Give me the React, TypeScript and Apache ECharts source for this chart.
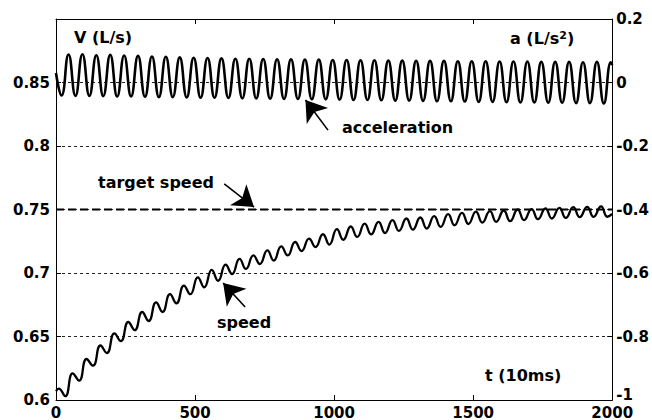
import { useEffect, useRef } from "react";
import * as echarts from "echarts";

const FONT = "'DejaVu Sans', 'Liberation Sans', sans-serif";

// Axis ticks (tick labels)
const xTicks = [0, 500, 1000, 1500, 2000];
const speedAxisTicks = [0.6, 0.65, 0.7, 0.75, 0.8, 0.85]; // 0.9 (top) left unlabeled
const accelAxisTicks = [-1, -0.8, -0.6, -0.4, -0.2, 0, 0.2];

// Speed V (L/s): ripple extremes
const speedT = [
  0, 10, 33, 60, 83, 110, 133, 160, 183, 210, 233, 260, 283, 310, 333, 360, 383, 410, 433, 460,
  483, 510, 533, 560, 583, 610, 633, 660, 683, 710, 733, 760, 783, 810, 833, 860, 883, 910, 933, 960,
  983, 1010, 1033, 1060, 1083, 1110, 1133, 1160, 1183, 1210, 1233, 1260, 1283, 1310, 1333, 1360, 1383, 1410, 1433, 1460,
  1483, 1510, 1533, 1560, 1583, 1610, 1633, 1660, 1683, 1710, 1733, 1760, 1783, 1810, 1833, 1860, 1883, 1910, 1933, 1960,
  1983, 2000,
];
const speedV = [
  0.607, 0.609, 0.603, 0.621, 0.6153, 0.6323, 0.627, 0.6429, 0.637, 0.6524, 0.6463, 0.6614, 0.655, 0.6693, 0.6622, 0.6768, 0.6693, 0.6833, 0.6762, 0.69,
  0.6833, 0.6966, 0.6887, 0.7024, 0.6939, 0.7066, 0.6992, 0.7111, 0.7032, 0.7138, 0.7071, 0.7178, 0.7098, 0.7209, 0.7138, 0.7244, 0.7173, 0.727, 0.7204, 0.7305,
  0.7224, 0.7345, 0.7262, 0.7366, 0.7284, 0.7389, 0.7304, 0.7403, 0.7315, 0.7416, 0.7331, 0.7429, 0.7342, 0.7437, 0.735, 0.7448, 0.7363, 0.7463, 0.7376, 0.7474,
  0.7386, 0.7484, 0.7397, 0.7487, 0.7403, 0.7492, 0.7408, 0.75, 0.7416, 0.7503, 0.7424, 0.7508, 0.7429, 0.7513, 0.7434, 0.7518, 0.744, 0.7521, 0.7442, 0.7524,
  0.7443, 0.7465,
];

// Acceleration a (L/s^2): oscillation extremes (right axis)
const accT = [
  0, 20, 45, 70, 95, 120, 145, 170, 195, 220, 245, 270, 295, 320, 345, 370, 395, 420, 445, 470,
  495, 520, 545, 570, 595, 620, 645, 670, 695, 720, 745, 770, 795, 820, 845, 870, 895, 920, 945, 970,
  995, 1020, 1045, 1070, 1095, 1120, 1145, 1170, 1195, 1220, 1245, 1270, 1295, 1320, 1345, 1370, 1395, 1420, 1445, 1470,
  1495, 1520, 1545, 1570, 1595, 1620, 1645, 1670, 1695, 1720, 1745, 1770, 1795, 1820, 1845, 1870, 1895, 1920, 1945, 1970,
  1995, 2000,
];
const accV = [
  0.03,
  -0.041, 0.088, -0.042, 0.089, -0.042, 0.086, -0.043, 0.087, -0.044, 0.085,
  -0.044, 0.084, -0.045, 0.082, -0.046, 0.081, -0.046, 0.079, -0.047, 0.078,
  -0.048, 0.077, -0.048, 0.076, -0.049, 0.075, -0.05, 0.075, -0.05, 0.074,
  -0.051, 0.073, -0.052, 0.073, -0.052, 0.072, -0.053, 0.072, -0.053, 0.071,
  -0.054, 0.071, -0.055, 0.07, -0.055, 0.07, -0.056, 0.069, -0.057, 0.069,
  -0.057, 0.068, -0.058, 0.068, -0.059, 0.068, -0.059, 0.067, -0.06, 0.067,
  -0.061, 0.067, -0.061, 0.066, -0.062, 0.066, -0.063, 0.066, -0.063, 0.065,
  -0.064, 0.065, -0.064, 0.065, -0.065, 0.064, -0.065, 0.065, -0.066, 0.064,
  0.055,
];

// Target speed
const targetT = [0, 2000];
const targetV = [0.75, 0.75];

// Annotation arrows [t0, v0, t1, v1] (left-axis units), head at the second point
const arrowTarget = [605, 0.7701, 712, 0.7519];
const arrowSpeed = [680, 0.6732, 601, 0.6921];
const arrowAccel = [978, 0.8125, 897, 0.8362];

function tickLabel(list: number[], v: number, digits: number) {
  const hit = list.find((t) => Math.abs(t - v) < 1e-6);
  return hit === undefined ? "" : String(parseFloat(hit.toFixed(digits)));
}

export default function App() {
  const ref = useRef<HTMLDivElement>(null);
  useEffect(() => {
    document.body.style.margin = "0";
    if (!ref.current) return;
    const chart = echarts.init(ref.current, undefined, { renderer: "svg" });
    const labelStyle = {
      color: "#000",
      fontFamily: FONT,
      fontWeight: "bold" as const,
      fontSize: 15,
    };
    const axisLine = { show: true, onZero: false, lineStyle: { color: "#000", width: 1 } };
    const axisTick = { show: true, inside: true, length: 5, lineStyle: { color: "#000", width: 1 } };
    const txt = (text: string, x: number, y: number) => ({
      type: "text",
      x,
      y,
      silent: true,
      style: {
        text,
        fill: "#000",
        font: `bold 16px ${FONT}`,
        fontFamily: FONT,
        fontWeight: "bold",
        fontSize: 16,
        align: "left",
        verticalAlign: "middle",
      },
    });
    const arrowPair = (a: number[]) => [{ coord: [a[0], a[1]] }, { coord: [a[2], a[3]] }];

    chart.setOption({
      animation: false,
      backgroundColor: "#fff",
      grid: { left: 56, right: 37, top: 19, bottom: 20, containLabel: false },
      xAxis: [
        {
          type: "value",
          position: "bottom",
          min: xTicks[0],
          max: xTicks[xTicks.length - 1],
          interval: xTicks[1] - xTicks[0],
          axisLine,
          axisTick,
          axisLabel: {
            ...labelStyle,
            margin: 5,
            showMinLabel: true,
            showMaxLabel: true,
            formatter: (v: number) => tickLabel(xTicks, v, 0),
          },
          splitLine: { show: false },
        },
        {
          type: "value",
          position: "top",
          min: xTicks[0],
          max: xTicks[xTicks.length - 1],
          interval: xTicks[1] - xTicks[0],
          axisLine,
          axisTick,
          axisLabel: { show: false },
          splitLine: { show: false },
        },
      ],
      yAxis: [
        {
          type: "value",
          position: "left",
          min: 0.6,
          max: 0.9,
          interval: 0.05,
          axisLine,
          axisTick,
          axisLabel: {
            ...labelStyle,
            margin: 6,
            showMinLabel: true,
            showMaxLabel: true,
            formatter: (v: number) => tickLabel(speedAxisTicks, v, 2),
          },
          splitLine: { show: true, lineStyle: { color: "#222", width: 1, type: [3, 3] } },
        },
        {
          type: "value",
          position: "right",
          min: -1,
          max: 0.2,
          interval: 0.2,
          axisLine,
          axisTick,
          axisLabel: {
            ...labelStyle,
            margin: 4,
            showMinLabel: true,
            showMaxLabel: true,
            formatter: (v: number) => {
              const s = tickLabel(accelAxisTicks, v, 1);
              return Math.abs(v - accelAxisTicks[0]) < 1e-6 ? `{lo|${s}}` : s;
            },
            rich: {
              lo: { ...labelStyle, padding: [0, 0, 10, 0] },
            },
          },
          splitLine: { show: false },
        },
      ],
      series: [
        {
          name: "acceleration",
          type: "line",
          xAxisIndex: 0,
          yAxisIndex: 1,
          data: accT.map((t, i) => [t, accV[i]]),
          smooth: 0.5,
          showSymbol: false,
          silent: true,
          lineStyle: { color: "#000", width: 2.6 },
          z: 3,
        },
        {
          name: "speed",
          type: "line",
          xAxisIndex: 0,
          yAxisIndex: 0,
          data: speedT.map((t, i) => [t, speedV[i]]),
          smooth: 0.5,
          showSymbol: false,
          silent: true,
          lineStyle: { color: "#000", width: 2.3 },
          z: 3,
        },
        {
          name: "target speed",
          type: "line",
          xAxisIndex: 0,
          yAxisIndex: 0,
          data: targetT.map((t, i) => [t, targetV[i]]),
          showSymbol: false,
          silent: true,
          lineStyle: { color: "#000", width: 2, type: [8, 4] },
          z: 2,
          markLine: {
            silent: true,
            animation: false,
            symbol: ["none", "arrow"],
            symbolSize: 20,
            label: { show: false },
            emphasis: { disabled: true },
            lineStyle: { color: "#000", width: 1.6, type: "solid" },
            data: [arrowPair(arrowTarget), arrowPair(arrowSpeed), arrowPair(arrowAccel)],
          },
        },
      ],
      graphic: [
        txt("V (L/s)", 74, 37),
        {
          type: "text",
          x: 510,
          y: 38,
          silent: true,
          style: {
            text: "a (L/s{s|2})",
            fill: "#000",
            font: `bold 16px ${FONT}`,
            fontFamily: FONT,
            fontWeight: "bold",
            fontSize: 16,
            align: "left",
            verticalAlign: "middle",
            rich: {
              s: { fontSize: 11, fontFamily: FONT, fontWeight: "bold", fill: "#000", verticalAlign: "top", lineHeight: 11 },
            },
          },
        },
        txt("t (10ms)", 485, 375),
        txt("target speed", 98, 182),
        txt("acceleration", 342, 127),
        txt("speed", 217, 322),
      ],
    });
    return () => chart.dispose();
  }, []);
  return <div ref={ref} style={{ width: 652, height: 420 }} />;
}
